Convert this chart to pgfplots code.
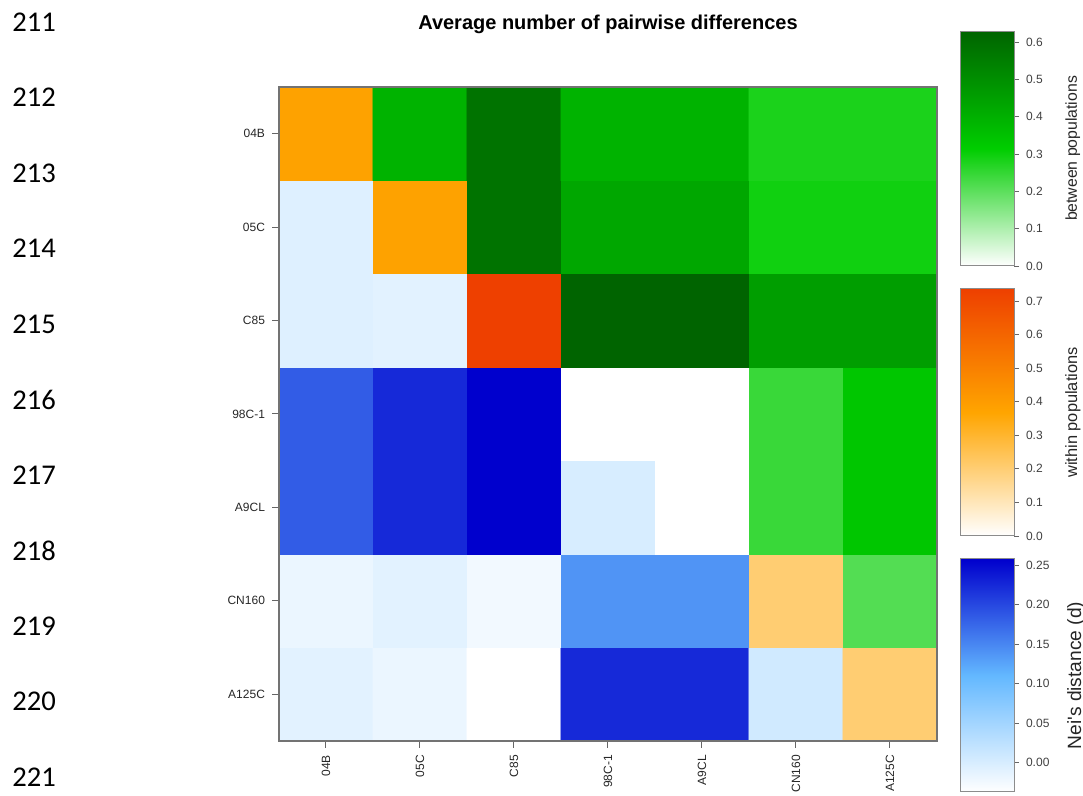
\documentclass[border=0pt]{standalone}
\usepackage{fontspec}
\setmainfont{Liberation Sans}
\newfontfamily\linenofont{Carlito}
\usepackage{pgfplots}
\usepackage{pgfplotstable}
\pgfplotsset{compat=1.18}

% colour scales of the three quantities
\pgfplotsset{
  colormap={neiblue}{rgb255(0pt)=(255,255,255); rgb255(50pt)=(99,184,255); rgb255(100pt)=(0,0,205)},
  colormap={withinorange}{rgb255(0pt)=(255,255,255); rgb255(50pt)=(255,165,0); rgb255(100pt)=(238,64,0)},
  colormap={betweengreen}{rgb255(0pt)=(255,255,255); rgb255(50pt)=(0,205,0); rgb255(100pt)=(0,100,0)},
  % the three scales side by side, so that one matrix can carry all of them
  colormap={combined}{rgb255(0pt)=(255,255,255); rgb255(50pt)=(99,184,255); rgb255(100pt)=(0,0,205);
    rgb255(101pt)=(255,255,255); rgb255(151pt)=(255,165,0); rgb255(201pt)=(238,64,0);
    rgb255(202pt)=(255,255,255); rgb255(252pt)=(0,205,0); rgb255(302pt)=(0,100,0)},
}

% ranges of the three colour scales
\def\neimin{-0.037}
\def\neimax{0.258}
\def\withinmax{0.736}
\def\betweenmax{0.63}

% col, row (0 = A125C ... 6 = 04B), value, kind
% kind: 0 = Nei's distance (d), 1 = within populations, 2 = between populations
\pgfplotstableread{
x y v g
0 0 -0.010 0
1 0 -0.018 0
2 0 -0.037 0
3 0 0.225 0
4 0 0.225 0
5 0 0.007 0
6 0 0.203 1
0 1 -0.018 0
1 1 -0.010 0
2 1 -0.025 0
3 1 0.139 0
4 1 0.139 0
5 1 0.203 1
6 1 0.213 2
0 2 0.184 0
1 2 0.225 0
2 2 0.258 0
3 2 0.001 0
4 2 0.000 1
5 2 0.245 2
6 2 0.335 2
0 3 0.184 0
1 3 0.225 0
2 3 0.258 0
3 3 0.000 1
4 3 0.000 2
5 3 0.245 2
6 3 0.335 2
0 4 -0.006 0
1 4 -0.010 0
2 4 0.736 1
3 4 0.630 2
4 4 0.630 2
5 4 0.455 2
6 4 0.455 2
0 5 -0.006 0
1 5 0.380 1
2 5 0.585 2
3 5 0.430 2
4 5 0.430 2
5 5 0.295 2
6 5 0.295 2
0 6 0.380 1
1 6 0.394 2
2 6 0.585 2
3 6 0.394 2
4 6 0.394 2
5 6 0.282 2
6 6 0.282 2
}\pairwise

% a vertical colour key with its scale on the right
\pgfplotsset{
  scalebar/.style={
    anchor=south west, scale only axis, width=27pt,
    enlargelimits=false, xmin=0, xmax=1, xtick=\empty,
    ytick pos=right, yticklabel pos=right,
    tick align=outside, major tick length=2.5pt,
    tick style={black!60, line width=0.4pt},
    axis line style={black!45, line width=0.5pt},
    /pgf/number format/assume math mode=true,
    yticklabel style={font=\fontsize{6}{7}\selectfont, text=black!75},
    ylabel style={at={(axis description cs:2.09,0.5)}, anchor=center,
      font=\fontsize{7.9}{9}\selectfont, text=black!85},
    axis on top,
  },
}

\begin{document}
\begin{tikzpicture}
\useasboundingbox (0,0) rectangle (541.5pt,398pt);

% line numbers in the margin
\foreach \n [count=\i from 0] in {211,...,221}
  \node[anchor=west, inner sep=0pt] at (6pt,{387pt-\i*37.75pt})
    {\linenofont\fontsize{14.3}{17}\selectfont\n};

\begin{axis}[
  at={(139.5pt,27.5pt)}, anchor=south west,
  scale only axis, width=329pt, height=327pt,
  xmin=-0.5, xmax=6.5, ymin=-0.5, ymax=6.5,
  xtick={0,...,6}, ytick={0,...,6},
  xticklabels={04B,05C,C85,98C-1,A9CL,CN160,A125C},
  yticklabels={A125C,CN160,A9CL,98C-1,C85,05C,04B},
  xtick pos=left, ytick pos=left,
  tick align=outside, major tick length=3.5pt,
  tick style={black!60, line width=0.5pt},
  axis line style={black!55, line width=0.6pt},
  xticklabel style={rotate=90, anchor=east, font=\fontsize{6}{7}\selectfont, text=black!85},
  yticklabel style={font=\fontsize{6}{7}\selectfont, text=black!85},
  title={Average number of pairwise differences},
  title style={font=\bfseries\fontsize{10}{12}\selectfont, anchor=base, at={(0.5,1)}, yshift=23pt},
  colormap name=combined,
  point meta min=0, point meta max=302,
  axis on top,
]
\addplot[matrix plot*, mesh/cols=7, point meta=explicit]
  table[x=x, y=y, meta expr={ifthenelse(\thisrow{g}==0, 100*(\thisrow{v}-(\neimin))/(\neimax-(\neimin)),
              ifthenelse(\thisrow{g}==1, 101+100*\thisrow{v}/\withinmax,
                                         202+100*\thisrow{v}/\betweenmax))}]
  {\pairwise};
\end{axis}

% between populations
\begin{axis}[
  scalebar, at={(480pt,265pt)}, height=117.5pt,
  ymin=0, ymax=\betweenmax,
  colormap name=betweengreen,
  point meta min=0, point meta max=\betweenmax,
  ytick={0,0.1,0.2,0.3,0.4,0.5,0.6},
  yticklabel style={/pgf/number format/.cd, fixed, fixed zerofill, precision=1},
  ylabel={between populations},
]
\addplot[surf, shader=interp, mesh/cols=2, point meta=y]
  coordinates {(0,0) (1,0) (0,\betweenmax) (1,\betweenmax)};
\end{axis}

% within populations
\begin{axis}[
  scalebar, at={(480pt,130pt)}, height=123.5pt,
  ymin=0, ymax=\withinmax,
  colormap name=withinorange,
  point meta min=0, point meta max=\withinmax,
  ytick={0,0.1,0.2,0.3,0.4,0.5,0.6,0.7},
  yticklabel style={/pgf/number format/.cd, fixed, fixed zerofill, precision=1},
  ylabel={within populations},
  ylabel style={font=\fontsize{8.2}{10}\selectfont},
]
\addplot[surf, shader=interp, mesh/cols=2, point meta=y]
  coordinates {(0,0) (1,0) (0,\withinmax) (1,\withinmax)};
\end{axis}

% Nei's distance
\begin{axis}[
  scalebar, at={(480pt,2pt)}, height=116.5pt,
  ymin=\neimin, ymax=\neimax,
  colormap name=neiblue,
  point meta min=\neimin, point meta max=\neimax,
  ytick={0,0.05,0.1,0.15,0.2,0.25},
  yticklabel style={/pgf/number format/.cd, fixed, fixed zerofill, precision=2},
  ylabel={Nei\textquotesingle s distance (d)},
  ylabel style={at={(axis description cs:2.15,0.5)}, font=\fontsize{9.6}{11}\selectfont},
]
\addplot[surf, shader=interp, mesh/cols=2, point meta=y]
  coordinates {(0,\neimin) (1,\neimin) (0,\neimax) (1,\neimax)};
\end{axis}
\end{tikzpicture}
\end{document}
